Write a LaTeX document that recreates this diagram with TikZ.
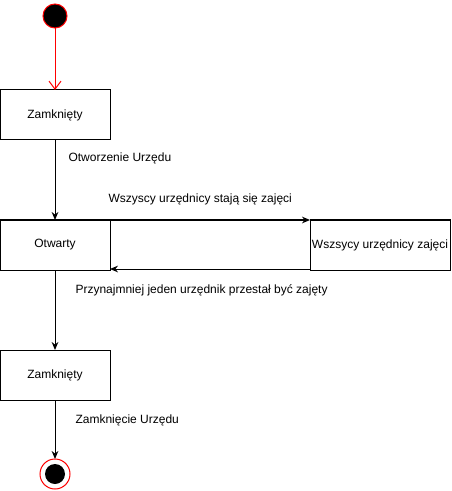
\documentclass[tikz,border=0pt]{standalone}
\usepackage{fontspec}
\setmainfont{Liberation Sans}
\usetikzlibrary{arrows.meta, positioning}

\begin{document}
\begin{tikzpicture}[
  x=0.75pt, y=-0.75pt,
  font=\fontsize{9}{11}\selectfont,
  line width=0.75pt,
  statebox/.style={draw, rectangle, inner sep=1pt, outer sep=0pt, text centered, minimum width=82.5pt, minimum height=37.5pt},
  widebox/.style={statebox, minimum width=105pt},
  startdot/.style={circle, draw=red, fill=black, minimum size=18pt, inner sep=0pt, outer sep=0pt},
  endring/.style={circle, draw=red, fill=white, minimum size=22.5pt, inner sep=0pt, outer sep=0pt},
  enddot/.style={circle, fill=black, minimum size=15pt, inner sep=0pt},
  lbl/.style={anchor=west, inner sep=0pt},
  trans/.style={-{Stealth[length=6pt,width=5pt]}},
]
\useasboundingbox (0,0) rectangle (451,491);

\node[startdot] (start) at (55,16) {};
\node[statebox] (closed1) at (55,115) {Zamknięty};
\node[statebox] (open) at (55,245) {Otwarty};
\node[widebox] (busy) at (380,245) {Wszsycy urzędnicy zajęci};
\node[statebox] (closed2) at (55,375) {Zamknięty};
\node[endring] (end) at (55,474) {};
\node[enddot] (enddot) at (end) {};

\node[lbl] (lopen) at (68,158) {Otworzenie Urzędu};
\node[lbl] (lbusy) at (108,199) {Wszyscy urzędnicy stają się zajęci};
\node[lbl] (lfree) at (75,290) {Przynajmniej jeden urzędnik przestał być zajęty};
\node[lbl] (lclose) at (75,420) {Zamknięcie Urzędu};

\draw[red, -{Straight Barb[length=6pt,width=9pt]}] (start) -- (closed1);
\draw[trans] (closed1) -- (open);
\draw[trans] (open.north east) -- (busy.north west);
\draw[trans] ([yshift=0.75pt]busy.south west) -- ([yshift=0.75pt]open.south east);
\draw[trans] (open) -- (closed2);
\draw[trans] (closed2) -- (end);
\end{tikzpicture}
\end{document}
